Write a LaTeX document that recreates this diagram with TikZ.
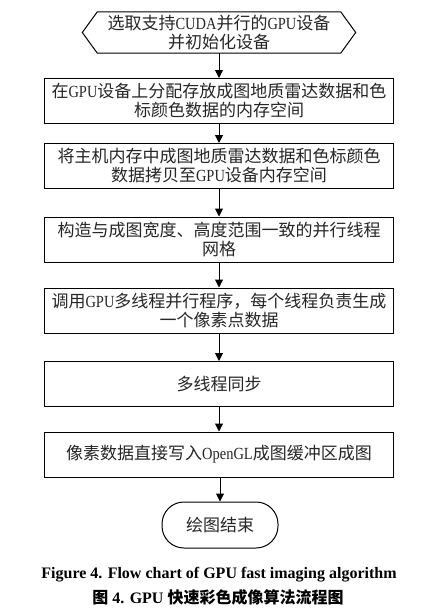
\documentclass[tikz,border=0pt]{standalone}
\usepackage{fontspec}
\setmainfont{Liberation Serif}
\newfontfamily\cjk{Noto Sans CJK SC}
\newfontfamily\latn[FakeStretch=0.85]{Liberation Serif}
\usetikzlibrary{arrows.meta,calc}
\newcommand\en[1]{{\latn #1}}
\begin{document}
\begin{tikzpicture}[x=1pt,y=-1pt,
  boxfont/.style={font=\cjk\fontsize{17}{19}\selectfont, text=black!85},
  stepbox/.style={draw, line width=1pt, minimum width=349pt, minimum height=45pt, align=center, inner sep=0pt, boxfont},
  hexbox/.style={minimum width=243pt, minimum height=41pt, align=center, inner sep=0pt, boxfont},
  endbox/.style={draw, line width=1pt, rounded corners=22pt, minimum width=116pt, minimum height=46pt, inner sep=0pt, boxfont},
  arr/.style={-{Triangle[length=8pt,width=8pt]}, line width=1pt},
  outline/.style={line width=1pt, line join=miter}]
\useasboundingbox (0,0) rectangle (430,610);
\fill[white] (0,0) rectangle (430,610);

\node[hexbox] (hex) at (219,32.5) {选取支持\en{CUDA}并行的\en{GPU}设备\\并初始化设备};
\draw[outline] (hex.north west) -- ($(hex.west)+(-15,0)$) -- (hex.south west) -- (hex.south east) -- ($(hex.east)+(15,0)$) -- (hex.north east) -- cycle;

\node[stepbox] (b2) at (219,101) {在\en{GPU}设备上分配存放成图地质雷达数据和色\\标颜色数据的内存空间};
\node[stepbox] (b3) at (219,166) {将主机内存中成图地质雷达数据和色标颜色\\数据拷贝至\en{GPU}设备内存空间};
\node[stepbox] (b4) at (219,239.5) {构造与成图宽度、高度范围一致的并行线程\\网格};
\node[stepbox] (b5) at (219,310.5) {调用\en{GPU}多线程并行程序，每个线程负责生成\\一个像素点数据};
\node[stepbox] (b6) at (219,384) {多线程同步};
\node[stepbox] (b7) at (219,454.5) {像素数据直接写入\en{OpenGL}成图缓冲区成图};
\node[endbox] (end) at (220,525) {绘图结束};

\draw[arr] (hex) -- (b2);
\draw[arr] (b2) -- (b3);
\draw[arr] (b3) -- (b4);
\draw[arr] (b4) -- (b5);
\draw[arr] (b5) -- (b6);
\draw[arr] (b6) -- (b7);
\draw[arr] (b7.south -| end.north) -- (end);

\node[font=\bfseries\fontsize{16}{18}\selectfont] (cap1) at (219,575) {Figure 4. Flow chart of GPU fast imaging algorithm};
\node[font=\bfseries\fontsize{16}{18}\selectfont] (cap2) at (218,597) {{\cjk\bfseries 图} 4. GPU {\cjk\bfseries 快速彩色成像算法流程图}};
\end{tikzpicture}
\end{document}
